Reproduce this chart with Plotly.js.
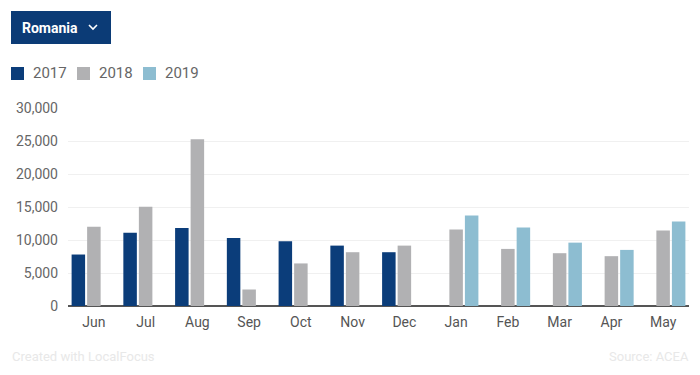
<!DOCTYPE html>
<html>
<head>
<meta charset="utf-8">
<script src="https://cdn.plot.ly/plotly-3.0.1.min.js"></script>
<style>
  html, body { margin: 0; padding: 0; background: #fff; }
  #chart { width: 700px; height: 375px; }
</style>
</head>
<body>
<div id="chart"></div>
<script>
// ---- data ----
const months = ["Jun", "Jul", "Aug", "Sep", "Oct", "Nov", "Dec", "Jan", "Feb", "Mar", "Apr", "May"];
const seriesNames = ["2017", "2018", "2019"];
const values2017 = [7800, 11100, 11800, 10300, 9800, 9150, 8150, null, null, null, null, null];
const values2018 = [12000, 15050, 25250, 2500, 6450, 8150, 9150, 11600, 8650, 8000, 7550, 11450];
const values2019 = [null, null, null, null, null, null, null, 13700, 11900, 9600, 8500, 12800];
const yTicks = [0, 5000, 10000, 15000, 20000, 25000, 30000];
const colors = ["#0b3d7a", "#b1b1b3", "#8dbdd1"];

// ---- layout helpers ----
const W = 700, H = 375;
const M = { l: 68, r: 11, t: 108, b: 69, autoexpand: false };
const px = x => (x - M.l) / (W - M.l - M.r);
const py = y => (H - M.b - y) / (H - M.t - M.b);

const FONT = "Roboto, 'Noto Sans', Arial, sans-serif";

const traces = [values2017, values2018, values2019].map((vals, i) => ({
  type: "bar",
  name: seriesNames[i],
  x: months,
  y: vals,
  marker: { color: colors[i], line: { width: 0 } },
  hoverinfo: "x+y+name"
}));

// custom legend (squares + labels) built from series names and colours
const legendStartX = [11, 77, 143];
const legendShapes = seriesNames.map((n, i) => ({
  type: "rect", xref: "paper", yref: "paper",
  x0: px(legendStartX[i]), x1: px(legendStartX[i] + 13),
  y0: py(80), y1: py(67),
  fillcolor: colors[i], line: { width: 0 }, layer: "above"
}));
const legendLabels = seriesNames.map((n, i) => ({
  xref: "paper", yref: "paper",
  x: px(legendStartX[i] + 20), y: py(73.5),
  xanchor: "left", yanchor: "middle", showarrow: false,
  text: n,
  font: { family: FONT, size: 15, color: "#666666" }
}));

const layout = {
  width: W,
  height: H,
  margin: M,
  paper_bgcolor: "#ffffff",
  plot_bgcolor: "#ffffff",
  font: { family: FONT, color: "#666666", size: 14 },
  barmode: "group",
  bargap: 0.10,
  bargroupgap: 0.13,
  showlegend: false,
  xaxis: {
    type: "category",
    categoryorder: "array",
    categoryarray: months,
    range: [-0.5, 11.5],
    showgrid: false,
    zeroline: false,
    showline: false,
    ticks: "",
    ticklabelstandoff: 6,
    tickfont: { family: FONT, size: 14, color: "#555555" },
    automargin: false,
    fixedrange: true
  },
  yaxis: {
    range: [0, 30000],
    tickvals: yTicks,
    ticktext: yTicks.map(v => v.toLocaleString("en-US")),
    showgrid: true,
    gridcolor: "#f0f0f0",
    gridwidth: 1,
    zeroline: true,
    zerolinecolor: "#555555",
    zerolinewidth: 1.5,
    showline: false,
    ticks: "",
    ticklabelstandoff: 9,
    tickfont: { family: FONT, size: 14, color: "#666666" },
    automargin: false,
    fixedrange: true
  },
  shapes: [
    {
      type: "rect", xref: "paper", yref: "paper",
      x0: px(11), x1: px(111), y0: py(44), y1: py(11),
      fillcolor: "#0b3b76", line: { width: 0 }, layer: "above"
    },
    {
      type: "path", xref: "paper", yref: "paper",
      path: `M ${px(89)} ${py(25)} L ${px(93)} ${py(29)} L ${px(97)} ${py(25)}`,
      line: { color: "#ffffff", width: 1.6 }, layer: "above"
    },
    ...legendShapes
  ],
  annotations: [
    {
      xref: "paper", yref: "paper", x: px(20), y: py(27.5),
      xanchor: "left", yanchor: "middle", showarrow: false,
      text: "<b>Romania</b>",
      font: { family: FONT, size: 14, color: "#ffffff" }
    },
    ...legendLabels,
    {
      xref: "paper", yref: "paper", x: px(10), y: py(356),
      xanchor: "left", yanchor: "middle", showarrow: false,
      text: "Created with LocalFocus",
      font: { family: FONT, size: 13, color: "#e8e8e8" }
    },
    {
      xref: "paper", yref: "paper", x: px(691), y: py(356),
      xanchor: "right", yanchor: "middle", showarrow: false,
      text: "Source: ACEA",
      font: { family: FONT, size: 13, color: "#e8e8e8" }
    }
  ]
};

Plotly.newPlot("chart", traces, layout, { displayModeBar: false, responsive: false });
</script>
</body>
</html>
